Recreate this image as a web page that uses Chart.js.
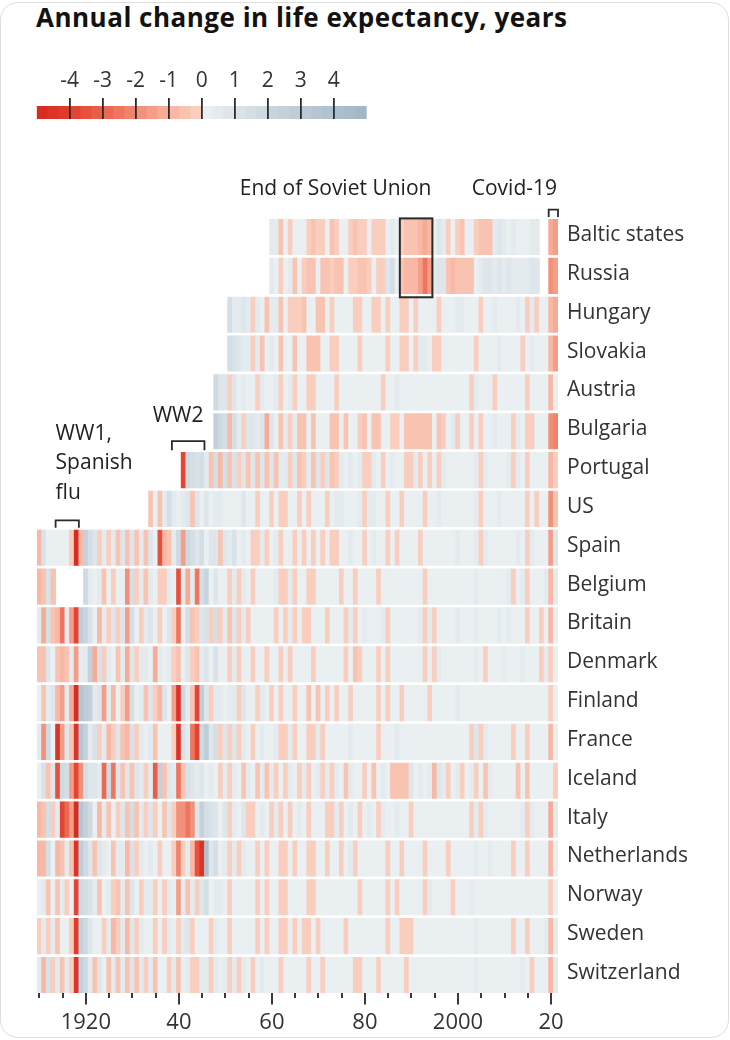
<!DOCTYPE html>
<html><head><meta charset="utf-8">
<script src="https://cdn.jsdelivr.net/npm/chart.js@4.4.1/dist/chart.umd.min.js"></script>
<style>
html,body{margin:0;padding:0;background:#fff;}
body{width:730px;height:1040px;position:relative;overflow:hidden;font-family:"Open Sans",sans-serif;}
#frame{position:absolute;left:0;top:2px;width:727px;height:1034px;border:1px solid #dedede;border-radius:18px;}
#title{position:absolute;left:36px;top:4px;font-weight:700;font-size:26px;line-height:1;letter-spacing:0.5px;color:#121212;white-space:nowrap;}
#main{position:absolute;left:0;top:0;}
#legend{position:absolute;left:0;top:50px;}
</style></head><body>
<div id="frame"></div>
<div id="title">Annual change in life expectancy, years</div>
<canvas id="main" width="730" height="1040"></canvas>
<canvas id="legend" width="400" height="80"></canvas>
<script>
// ---------- data: annual change in life expectancy (years) ----------
const countries = ['Baltic states','Russia','Hungary','Slovakia','Austria','Bulgaria','Portugal','US','Spain','Belgium','Britain','Denmark','Finland','France','Iceland','Italy','Netherlands','Norway','Sweden','Switzerland'];
const firstYears = [1960,1960,1951,1951,1948,1948,1941,1934,1910,1910,1910,1910,1910,1910,1910,1910,1910,1910,1910,1910];

const balticStates = [
 0.5,0.4,-0.4,0.2,-0.3,0.2,0.1,0.1,-0.3,-0.4,
 -0.3,-0.2,0.1,-0.4,-0.3,0.1,0.1,-0.3,-0.4,-0.3,
 -0.2,0.1,-0.3,-0.3,-0.3,0.2,0.6,0.2,-0.3,-0.4,
 -0.5,-0.5,-0.8,-1.2,-1.0,0.3,0.8,0.5,-0.2,0.3,
 -0.3,-0.4,0.2,0.1,-0.3,-0.5,-0.4,-0.5,0.5,0.8,
 0.5,0.3,0.4,0.3,0.2,0.3,0.4,0.5,null,null,
 -1.2,-1.5];
const russia = [
 0.6,0.3,-0.3,0.2,0.5,-0.4,0.1,-0.3,-0.4,-0.5,
 0.2,-0.4,-0.5,-0.2,-0.5,-0.4,0.1,-0.2,-0.3,-0.5,
 -0.4,-0.3,0.2,-0.3,-0.2,0.8,1.5,0.3,-0.6,-0.7,
 -0.8,-0.7,-1.5,-2.5,-1.5,0.6,1.0,0.8,-0.4,-1.0,
 -0.6,-0.4,-0.5,-0.6,0.3,0.4,1.0,0.8,0.6,0.8,
 0.4,0.9,0.6,0.6,0.4,0.5,0.7,0.8,null,null,
 -1.8,-1.5];
const hungary = [
 1.5,0.5,0.6,0.8,0.5,-0.3,0.4,0.3,-0.4,
 0.5,0.4,-0.4,0.3,-0.2,-0.3,-0.3,-0.4,0.1,0.1,
 -0.4,-0.4,0.2,-0.3,0.1,0.1,0.2,0.1,-0.2,-0.2,
 0.1,0.1,-0.3,-0.3,0.1,-0.3,0.2,0.1,-0.2,-0.3,
 0.1,-0.3,0.1,0.1,0.2,0.2,-0.2,0.3,0.2,0.2,
 0.4,0.4,0.2,0.1,0.3,-0.2,0.3,0.1,0.4,0.3,
 0.3,0.3,0.2,0.4,0.2,-0.2,0.4,-0.1,0.1,0.3,
 -0.8,-1.3];
const slovakia = [
 1.5,1.2,0.8,0.6,0.5,-0.3,0.4,-0.4,0.3,
 0.4,0.3,-0.4,0.1,0.2,-0.4,0.2,0.1,-0.5,-0.6,
 -0.5,0.2,0.1,-0.3,-0.3,0.2,0.1,0.2,0.1,-0.3,
 0.1,0.2,0.1,0.1,0.2,-0.3,0.2,0.1,-0.2,-0.3,
 0.1,-0.3,0.4,0.4,0.2,-0.2,-0.3,0.2,0.2,0.1,
 0.3,0.3,0.1,0.2,-0.1,0.1,0.2,0.1,0.3,0.4,
 0.3,0.3,0.2,0.3,-0.1,0.1,0.4,0.1,0.1,0.3,
 -0.9,-1.5];
const austria = [
 2.0,1.0,
 0.8,-0.3,1.0,0.3,0.4,0.2,0.3,-0.2,0.4,0.1,
 0.3,0.4,-0.3,0.1,0.4,-0.2,0.3,0.2,-0.2,-0.3,
 0.2,0.2,0.3,0.2,-0.1,0.1,0.3,0.3,0.2,0.3,
 0.2,0.3,0.3,0.2,-0.1,0.2,0.3,0.4,0.3,0.2,
 0.1,0.2,0.2,0.3,0.3,0.2,0.3,0.3,0.3,0.2,
 0.3,0.3,0.2,-0.1,0.4,0.2,0.3,0.2,-0.1,0.1,
 0.3,0.3,0.1,0.2,0.3,-0.1,0.3,0.1,0.1,0.3,
 -0.7,0.0];
const bulgaria = [
 2.5,1.8,
 1.5,-0.8,1.5,0.6,-0.3,1.0,0.8,0.5,1.0,-1.2,
 0.8,0.3,-0.4,0.6,-0.3,0.4,-0.5,-0.6,0.3,-0.5,
 0.3,0.2,0.2,-0.4,-0.4,0.2,-0.5,0.2,0.2,-0.3,
 -0.4,0.2,-0.5,-0.4,0.2,0.1,-0.3,-0.3,0.2,-0.4,
 -0.6,-0.5,-0.6,-0.4,-0.6,0.2,-0.5,-0.3,0.3,0.4,
 -0.2,0.2,0.3,-0.2,0.3,-0.2,0.3,0.2,0.4,0.3,
 0.2,0.3,-0.1,0.4,0.1,-0.1,-0.1,0.2,0.1,0.1,
 -1.8,-2.2];
const portugal = [
 -4.0,2.0,1.5,1.2,1.5,0.6,-0.6,1.5,-0.8,
 1.5,-0.5,1.2,-0.3,1.0,-0.6,0.8,-0.4,1.0,-0.6,
 0.8,-0.5,0.5,0.6,-0.3,1.0,-0.4,-0.3,0.5,-0.5,
 0.8,-0.3,0.8,-0.4,-0.3,0.5,0.3,0.6,0.3,0.5,
 -0.3,-0.2,0.6,0.2,-0.2,0.3,0.4,0.3,0.2,-0.2,
 -0.3,0.4,-0.3,0.2,-0.3,0.3,-0.2,0.4,0.2,0.3,
 0.3,0.3,0.2,0.3,0.6,-0.1,0.5,0.3,0.3,0.2,
 0.3,0.4,-0.1,0.4,0.2,-0.1,0.2,0.1,0.1,0.2,
 -0.9,-0.2];
const us = [
 -0.5,0.3,-0.6,0.5,1.5,0.5,
 0.3,0.6,1.0,-0.5,0.8,0.3,0.7,0.2,0.4,0.6,
 0.2,0.1,0.1,0.2,0.7,0.1,0.1,-0.3,0.2,0.2,
 -0.1,0.3,-0.1,-0.1,0.2,0.1,-0.1,0.3,-0.3,0.2,
 0.3,0.2,-0.1,0.2,0.6,0.5,0.3,0.3,0.2,0.4,
 -0.1,0.4,0.4,0.1,0.2,-0.1,0.1,0.2,-0.1,0.3,
 0.2,0.2,0.3,-0.2,0.3,0.2,0.4,0.3,0.2,0.1,
 0.1,0.2,0.1,0.2,0.4,-0.1,0.3,0.3,0.1,0.4,
 0.2,0.1,0.1,0.1,0.1,-0.1,0.1,-0.1,0.2,0.2,
 -1.8,-0.6];
const spain = [
 -0.8,1.2,0.2,0.3,0.2,0.3,0.2,-0.3,-5.0,-0.8,
 2.5,1.5,1.0,-0.3,0.6,-0.3,0.5,-0.4,0.7,-0.5,
 0.8,-0.4,0.6,-0.5,0.8,0.3,-3.5,-0.8,-0.6,0.6,
 2.0,-1.5,2.0,1.5,0.8,1.5,0.2,0.8,1.0,-0.5,
 1.0,0.6,1.2,0.3,0.6,0.2,-0.2,-0.3,0.6,-0.2,
 0.3,0.4,-0.2,0.2,0.3,-0.2,0.3,-0.2,0.3,-0.3,
 0.3,-0.2,0.3,-0.2,-0.1,0.3,0.3,0.4,0.3,0.3,
 -0.1,0.3,0.4,0.1,0.2,-0.1,0.2,-0.1,0.2,0.1,
 0.1,0.2,-0.1,0.3,0.3,0.2,0.2,0.3,0.2,0.1,
 0.4,0.3,0.2,0.2,0.4,-0.1,0.6,0.2,0.3,0.3,
 0.3,0.3,0.1,0.5,0.1,-0.2,0.4,0.1,0.1,0.3,
 -1.5,0.8];
const belgium = [
 -1.0,-0.5,1.2,-0.5,null,null,null,null,null,null,
 2.0,0.5,0.2,0.6,-0.5,0.3,-0.3,0.3,0.2,-2.0,
 1.5,-0.2,0.4,-0.4,0.5,0.2,-0.2,-0.3,0.4,0.2,
 -3.5,0.6,-1.2,0.4,-2.5,1.5,2.2,0.2,0.8,0.2,
 0.3,-0.2,0.5,-0.1,0.4,0.1,-0.2,0.3,0.3,0.2,
 0.2,0.4,-0.3,-0.2,0.5,-0.1,0.1,0.3,-0.2,-0.1,
 0.2,0.1,0.2,0.1,0.3,-0.2,0.2,0.3,-0.1,0.3,
 0.2,0.3,0.1,-0.1,0.3,0.1,0.2,0.3,0.2,0.1,
 0.2,0.3,0.2,-0.1,0.3,0.1,0.2,0.3,0.1,0.1,
 0.2,0.3,0.2,0.1,0.5,0.1,0.3,0.2,0.1,0.3,
 0.2,0.4,-0.1,0.2,0.4,-0.2,0.3,0.1,0.1,0.4,
 -1.0,0.6];
const britain = [
 0.6,-1.2,1.5,-0.5,-1.0,-2.5,0.6,-1.5,-4.0,3.0,
 2.2,1.2,0.3,-0.8,0.4,-0.3,0.8,-0.2,1.0,-1.5,
 1.5,0.3,-0.2,0.4,0.8,0.3,-0.3,0.2,0.9,-0.2,
 -2.5,0.2,1.5,-0.4,-0.3,1.0,1.3,-0.2,1.5,-0.2,
 0.6,-0.4,1.0,-0.1,0.5,-0.1,0.3,0.1,0.2,0.3,
 0.3,-0.2,0.1,-0.1,0.6,-0.1,0.1,-0.3,-0.3,0.2,
 0.3,0.3,-0.2,0.2,0.2,0.3,-0.2,0.4,-0.1,0.2,
 0.4,0.3,0.2,0.2,0.4,-0.1,0.3,0.3,0.2,0.1,
 0.3,0.2,0.4,-0.2,0.5,-0.1,0.2,0.3,0.2,0.2,
 0.4,0.3,0.2,0.1,0.5,0.2,0.3,0.2,0.2,0.5,
 0.3,0.4,0.1,0.1,0.3,-0.2,0.2,0.1,-0.1,0.3,
 -1.0,0.2];
const denmark = [
 -0.6,-0.5,1.0,0.3,-0.4,-0.8,-0.6,0.6,-1.5,0.4,
 0.6,2.5,-1.2,1.2,-0.2,0.5,0.2,-0.5,0.6,-1.2,
 1.0,-0.2,0.4,0.5,0.3,-1.2,0.6,0.2,0.5,-0.3,
 -0.4,0.3,0.9,-0.3,-0.6,0.4,0.8,0.3,1.2,0.2,
 0.3,-0.2,0.4,-0.1,0.3,0.2,-0.2,0.1,0.3,-0.1,
 0.2,0.1,-0.3,0.1,-0.2,0.1,0.1,0.2,0.1,-0.1,
 0.1,0.2,0.1,0.2,0.3,0.1,-0.2,0.2,-0.4,-0.3,
 0.2,0.1,0.2,-0.2,0.2,-0.2,0.2,0.1,0.1,0.1,
 0.2,0.2,0.1,-0.2,0.3,-0.2,0.4,0.3,0.2,0.2,
 0.2,0.3,0.1,0.3,0.4,0.2,-0.1,0.3,0.2,0.2,
 0.4,0.3,0.3,0.2,0.4,0.1,0.3,0.2,-0.1,0.4,
 -0.1,0.1];
const finland = [
 0.3,-0.5,0.4,0.8,-0.8,-1.5,0.5,-1.2,-5.0,3.5,
 3.0,2.5,0.4,0.8,-1.5,0.6,-1.0,0.3,-0.3,-1.6,
 1.5,0.2,0.6,-0.4,0.9,-0.3,-0.8,0.8,0.3,-1.5,
 -4.5,1.8,0.6,-0.5,-4.0,3.0,1.0,-0.3,0.6,0.5,
 0.3,0.4,0.6,-0.2,0.7,0.1,0.3,-0.3,0.6,0.2,
 -0.2,0.2,-0.3,0.1,0.2,-0.2,0.2,0.2,-0.4,0.1,
 -0.4,0.2,-0.3,0.2,-0.3,0.2,0.2,-0.2,0.3,0.2,
 0.1,0.1,0.3,-0.2,0.2,-0.3,0.3,0.1,-0.3,0.2,
 0.1,0.3,0.2,0.3,-0.1,0.2,0.3,0.2,0.2,0.1,
 0.4,0.3,0.2,0.3,0.3,0.2,0.3,0.1,0.2,0.1,
 0.3,0.3,0.2,0.3,0.3,0.2,0.1,0.2,0.1,0.3,
 -0.3,0.1];
const france = [
 0.5,-2.0,2.0,0.2,-4.5,-1.5,0.8,-0.6,-4.5,3.5,
 2.5,0.6,1.2,-0.3,0.5,-1.0,-0.2,1.0,-0.4,-0.8,
 1.2,-0.3,0.5,0.2,0.6,-0.4,0.3,0.1,0.2,-0.3,
 -4.5,1.2,0.4,-2.5,-4.0,2.0,3.0,0.8,1.5,-0.3,
 1.0,-0.3,0.8,-0.2,0.6,0.2,-0.1,0.3,0.6,0.1,
 0.2,0.5,-0.2,-0.2,0.6,-0.1,0.3,0.1,-0.2,-0.3,
 0.5,-0.1,0.3,0.1,0.2,0.1,0.3,0.4,0.1,0.2,
 0.2,0.2,0.3,-0.1,0.3,0.1,0.2,0.4,0.2,0.2,
 0.2,0.2,0.3,0.1,0.3,0.2,0.2,0.3,0.2,0.2,
 0.3,0.3,0.2,-0.1,0.8,-0.1,0.4,0.3,0.1,0.2,
 0.3,0.3,-0.1,0.3,0.3,-0.2,0.2,0.1,0.1,0.2,
 -0.7,0.2];
const iceland = [
 0.3,1.2,-0.6,1.0,-3.5,1.8,1.5,-1.5,-4.0,-2.0,
 1.5,1.0,0.8,0.6,-3.0,2.0,-2.5,1.0,-0.6,0.8,
 -0.5,1.0,0.5,-0.3,0.6,-3.2,2.5,-0.6,1.0,0.5,
 -2.5,-0.5,1.2,0.8,0.6,0.9,0.3,0.5,0.3,-0.3,
 0.6,-0.3,0.6,0.3,-0.4,0.5,0.2,-0.5,0.6,-0.4,
 0.5,-0.3,0.3,-0.2,0.4,0.3,-0.3,0.4,-0.3,0.3,
 0.4,-0.3,0.4,-0.3,0.5,0.3,-0.4,0.5,0.2,0.3,
 -0.3,0.3,-0.4,0.3,0.5,0.3,-0.5,-0.4,-0.6,-0.4,
 0.8,0.2,0.4,0.3,0.5,-0.9,0.8,0.4,-0.3,0.3,
 0.5,-0.3,0.3,0.5,-0.3,0.3,-0.4,0.5,0.2,0.3,
 0.2,0.3,0.3,-0.4,0.3,-0.4,0.2,0.3,0.2,0.3,
 0.2,-0.2];
const italy = [
 -0.8,-0.5,1.5,-0.3,0.5,-4.0,-3.0,-1.5,-5.0,3.5,
 2.5,2.0,0.3,-0.8,0.6,-0.5,0.3,-0.3,0.8,-0.5,
 1.5,-0.6,0.5,-0.3,0.9,-0.3,0.3,-0.6,0.8,-0.3,
 -2.0,-2.0,-2.5,-2.0,1.0,2.5,1.5,1.2,1.0,0.3,
 0.8,-0.3,0.6,0.2,0.7,-0.1,-0.3,0.3,0.5,0.3,
 -0.1,0.5,-0.2,0.1,-0.2,0.1,0.4,0.3,-0.3,0.1,
 0.3,0.2,-0.1,-0.2,0.4,-0.2,0.3,0.4,0.3,-0.1,
 0.2,0.4,0.3,-0.2,0.5,0.2,0.3,0.4,0.2,0.3,
 -0.1,0.3,0.2,0.3,0.2,0.3,0.3,0.2,0.2,0.3,
 0.3,0.3,0.2,-0.1,0.6,-0.1,0.4,0.2,0.1,0.2,
 0.3,0.2,0.1,0.3,0.4,-0.3,0.5,0.1,0.2,0.2,
 -1.2,0.4];
const netherlands = [
 -0.7,-0.9,1.5,0.3,-0.8,-0.5,0.4,-0.4,-4.5,3.0,
 2.0,1.0,-0.4,1.0,0.5,0.3,-0.6,0.5,0.4,-1.0,
 1.2,-0.3,0.4,0.3,0.6,0.2,-0.2,0.3,0.3,-0.2,
 -2.2,-0.3,0.5,-1.0,-3.5,-4.5,4.0,1.0,1.5,0.3,
 0.4,-0.3,0.6,-0.2,0.4,0.1,0.1,-0.1,0.3,-0.2,
 0.2,0.3,-0.2,-0.2,0.3,-0.2,0.1,0.2,-0.3,-0.1,
 0.1,0.2,-0.2,0.3,0.3,-0.2,0.2,0.4,-0.2,0.3,
 0.1,0.1,0.2,0.1,0.1,-0.2,0.2,0.2,-0.1,0.1,
 0.2,0.2,0.1,-0.2,0.3,0.1,0.2,0.3,-0.1,0.1,
 0.3,0.3,0.2,0.3,0.5,0.3,0.3,0.4,0.2,0.3,
 0.2,0.3,-0.1,0.2,0.3,-0.2,0.2,0.1,0.1,0.3,
 -0.8,0.0];
const norway = [
 0.3,0.6,-0.4,0.2,-0.5,0.5,-0.3,0.2,-4.0,2.0,
 1.5,1.2,0.5,-0.5,0.3,0.4,-0.2,-0.4,0.5,-0.6,
 1.0,0.2,-0.3,0.5,0.4,-0.3,0.2,-0.3,0.5,0.3,
 -1.5,0.4,-0.4,0.6,-0.3,0.8,1.5,0.3,0.5,0.4,
 0.3,-0.3,0.3,0.2,0.1,0.2,0.2,-0.2,0.3,-0.1,
 0.1,0.1,-0.2,-0.1,0.2,0.1,0.1,0.2,-0.3,-0.1,
 0.2,0.1,0.1,0.2,0.1,0.2,0.1,0.2,0.1,-0.2,
 0.1,0.2,0.2,0.1,0.1,-0.2,0.2,-0.2,0.1,0.3,
 0.2,0.3,0.2,-0.2,0.4,0.2,0.3,0.2,0.1,-0.1,
 0.3,0.3,0.2,0.4,0.3,0.3,0.2,0.2,0.2,0.3,
 0.2,0.3,0.2,0.3,0.3,0.2,0.3,0.2,0.1,0.3,
 -0.2,0.2];
const sweden = [
 -0.3,0.4,-0.3,0.4,-0.6,0.2,0.3,-0.2,-4.2,2.5,
 2.0,1.0,0.2,0.3,-0.3,0.4,-0.8,-0.3,0.5,-0.8,
 0.7,-0.2,0.5,0.3,0.2,-0.3,0.2,-0.2,0.5,0.2,
 -0.3,0.4,0.8,-0.2,0.3,0.2,0.3,-0.2,0.5,0.2,
 0.2,-0.1,0.3,0.1,0.1,0.1,0.1,-0.1,0.2,-0.1,
 0.1,0.2,-0.1,-0.1,0.3,-0.1,0.1,-0.1,-0.2,0.1,
 -0.2,0.1,0.2,0.2,0.1,0.1,-0.2,0.3,0.1,0.1,
 0.2,0.2,0.3,0.2,0.2,-0.2,0.3,0.2,-0.2,-0.1,
 -0.2,0.2,0.3,0.3,0.3,0.2,0.2,0.2,0.1,0.2,
 0.3,0.2,0.2,0.2,0.4,0.2,0.2,0.2,0.2,0.2,
 0.3,0.2,-0.1,0.2,0.3,-0.1,0.2,0.2,0.3,0.4,
 -0.7,0.5];
const switzerland = [
 0.5,-0.8,1.2,-0.2,0.4,-0.5,0.6,-0.3,-4.5,2.5,
 2.0,0.6,-0.5,0.8,0.2,-0.4,0.6,-0.5,0.6,-0.6,
 0.8,-0.5,0.4,-0.3,0.6,-0.4,0.3,0.3,-0.2,0.4,
 -0.5,0.3,0.5,-0.2,-0.3,0.4,0.4,-0.3,0.5,0.2,
 0.4,-0.2,0.4,-0.2,0.4,0.2,-0.1,0.2,0.4,0.1,
 0.1,0.2,-0.2,0.1,0.2,0.1,0.2,0.1,-0.2,0.1,
 0.2,-0.2,0.3,0.2,0.3,0.2,0.3,0.2,-0.2,-0.1,
 0.3,0.2,0.3,-0.1,0.3,0.2,0.3,0.2,0.2,-0.1,
 0.2,0.3,0.2,0.3,0.3,0.2,0.3,0.3,0.2,0.3,
 0.3,0.3,0.2,0.2,0.4,0.3,0.3,0.2,0.2,0.2,
 0.3,0.3,0.2,0.2,0.4,0.1,-0.1,0.2,0.2,0.3,
 -0.9,0.5];

const series = [balticStates,russia,hungary,slovakia,austria,bulgaria,portugal,us,spain,belgium,britain,denmark,finland,france,iceland,italy,netherlands,norway,sweden,switzerland];

// x-axis ticks and labels
const tickYears  = [1910,1915,1920,1925,1930,1935,1940,1945,1950,1955,1960,1965,1970,1975,1980,1985,1990,1995,2000,2005,2010,2015,2020];
const tickLabels = ['','','1920','','','','40','','','','60','','','','80','','','','2000','','','','20'];
// colour key
const legendTicks = [-4,-3,-2,-1,0,1,2,3,4];
const legendMin = -5, legendMax = 5, legendStepsPerUnit = 3;

// ---------- colour scale ----------
const negStops = [[251,212,198],[247,178,158],[241,138,113],[234,98,76],[226,62,46],[212,40,31]];
const posStops = [[237,241,244],[219,228,234],[203,215,224],[188,203,214],[174,192,205],[161,181,195]];
function interp(stops, a){
  const i = Math.min(Math.floor(a), stops.length - 2), t = a - i;
  const c0 = stops[i], c1 = stops[i+1];
  return 'rgb(' + c0.map((c,k)=>Math.round(c + (c1[k]-c)*t)).join(',') + ')';
}
function colorFor(v){
  const n = legendMax * legendStepsPerUnit;
  const bin = Math.min(n, Math.max(1, Math.ceil(Math.abs(v)*legendStepsPerUnit - 1e-9)));
  const mid = (bin - 0.5) / legendStepsPerUnit;
  return v < 0 ? interp(negStops, mid) : interp(posStops, mid);
}

// ---------- build heatmap cells ----------
const cells = [];
countries.forEach((name, r) => {
  series[r].forEach((v, i) => {
    if (v === null) return;
    const yr = firstYears[r] + i;
    cells.push({x: [yr - 0.5, yr + 0.5], y: name, v: v});
  });
});

const FONT = '"Open Sans", sans-serif';

const decorations = {
  id: 'decorations',
  afterDraw(chart){
    const ctx = chart.ctx, xs = chart.scales.x, ys = chart.scales.y, ca = chart.chartArea;
    const px = v => xs.getPixelForValue(v);
    const slot = ys.height / countries.length;
    const slotTop = i => ys.getPixelForValue(i) - slot/2;
    ctx.save();
    // x-axis tick marks
    ctx.strokeStyle = '#3a3a3a'; ctx.lineWidth = 2;
    tickYears.forEach((yr, i) => {
      const x = Math.round(px(yr));
      const major = tickLabels[i] !== '';
      ctx.beginPath(); ctx.moveTo(x, ca.bottom - 1.5); ctx.lineTo(x, ca.bottom + (major ? 10 : 3.5)); ctx.stroke();
    });
    // End of Soviet Union box
    ctx.strokeStyle = '#2a2a2a'; ctx.lineWidth = 2;
    const bx0 = px(1987.5), bx1 = px(1994.5), by0 = slotTop(0) + 0.8, by1 = slotTop(2) + 2;
    ctx.strokeRect(bx0, by0, bx1 - bx0, by1 - by0);
    // brackets
    const bracket = (x0, x1, yTop, yBot) => {
      ctx.beginPath(); ctx.moveTo(x0, yBot); ctx.lineTo(x0, yTop); ctx.lineTo(x1, yTop); ctx.lineTo(x1, yBot); ctx.stroke();
    };
    ctx.lineWidth = 1.8;
    bracket(px(2019.5), px(2021.5), slotTop(0) - 8, slotTop(0) - 0.5);
    bracket(px(1913.5), px(1918.5), slotTop(8) - 8, slotTop(8) - 0.5);
    bracket(px(1938.5), px(1945.5), slotTop(6) - 9.5, slotTop(6) - 0.5);
    // annotation text
    ctx.fillStyle = '#222'; ctx.font = '21px ' + FONT; ctx.textBaseline = 'alphabetic';
    ctx.textAlign = 'right';
    ctx.fillText('End of Soviet Union', bx1 - 1, 195);
    ctx.fillText('Covid-19', px(2021.5) - 1, 195);
    ctx.fillText('WW2', px(1945.5) - 1, 422);
    ctx.textAlign = 'left';
    ctx.fillText('WW1,', px(1913.5), 440);
    ctx.fillText('Spanish', px(1913.5), 469);
    ctx.fillText('flu', px(1913.5), 498.5);
    ctx.restore();
  }
};

new Chart(document.getElementById('main'), {
  type: 'bar',
  data: {
    labels: countries,
    datasets: [{
      data: cells,
      backgroundColor: c => (c.raw ? colorFor(c.raw.v) : '#fff'),
      borderWidth: 0,
      barPercentage: 0.91,
      categoryPercentage: 1,
      inflateAmount: 0.4
    }]
  },
  options: {
    indexAxis: 'y', responsive: false, animation: false, devicePixelRatio: 1,
    layout: {padding: {left: 37, top: 217.6, right: 0, bottom: 0}},
    plugins: {legend: {display: false}, tooltip: {enabled: false}},
    scales: {
      x: {
        type: 'linear', position: 'bottom', min: 1909.5, max: 2021.5,
        grid: {display: false, drawTicks: false}, border: {display: false},
        afterBuildTicks: s => { s.ticks = tickYears.map(v => ({value: v})); },
        afterFit: s => { s.height = 1040 - 994.4; },
        ticks: {padding: 15.5, color: '#333', font: {family: FONT, size: 22}, maxRotation: 0, autoSkip: false,
          callback: (v) => tickLabels[tickYears.indexOf(v)] ?? ''}
      },
      y: {
        type: 'category', position: 'right',
        grid: {display: false, drawTicks: false}, border: {display: false},
        afterFit: s => { s.width = 172; },
        ticks: {padding: 9, labelOffset: -2, color: '#333', font: {family: FONT, size: 21}, autoSkip: false}
      }
    }
  },
  plugins: [decorations]
});

// ---------- colour key ----------
const legendCells = [];
for (let k = 0; k < (legendMax - legendMin) * legendStepsPerUnit; k++) {
  const lo = legendMin + k / legendStepsPerUnit, hi = lo + 1 / legendStepsPerUnit;
  legendCells.push({x: [lo, hi], y: 'key', v: (lo + hi) / 2});
}
new Chart(document.getElementById('legend'), {
  type: 'bar',
  data: {labels: ['key'], datasets: [{data: legendCells, backgroundColor: c => (c.raw ? colorFor(c.raw.v) : '#fff'), borderWidth: 0, barPercentage: 1, categoryPercentage: 1, inflateAmount: 0.3}]},
  options: {
    indexAxis: 'y', responsive: false, animation: false, devicePixelRatio: 1,
    layout: {padding: {left: 36.7, right: 33.3, top: 0, bottom: 11}},
    plugins: {legend: {display: false}, tooltip: {enabled: false}},
    scales: {
      x: {
        type: 'linear', position: 'top', min: legendMin, max: legendMax,
        afterBuildTicks: s => { s.ticks = legendTicks.map(v => ({value: v})); },
        afterFit: s => { s.height = 56; },
        grid: {drawOnChartArea: true, drawTicks: true, tickLength: 8, color: '#2b2b2b', lineWidth: 1.8, z: 1},
        border: {display: false},
        ticks: {padding: 4, color: '#333', font: {family: FONT, size: 21}, maxRotation: 0, autoSkip: false, callback: v => String(v)}
      },
      y: {display: false}
    }
  }
});
</script>
</body></html>
